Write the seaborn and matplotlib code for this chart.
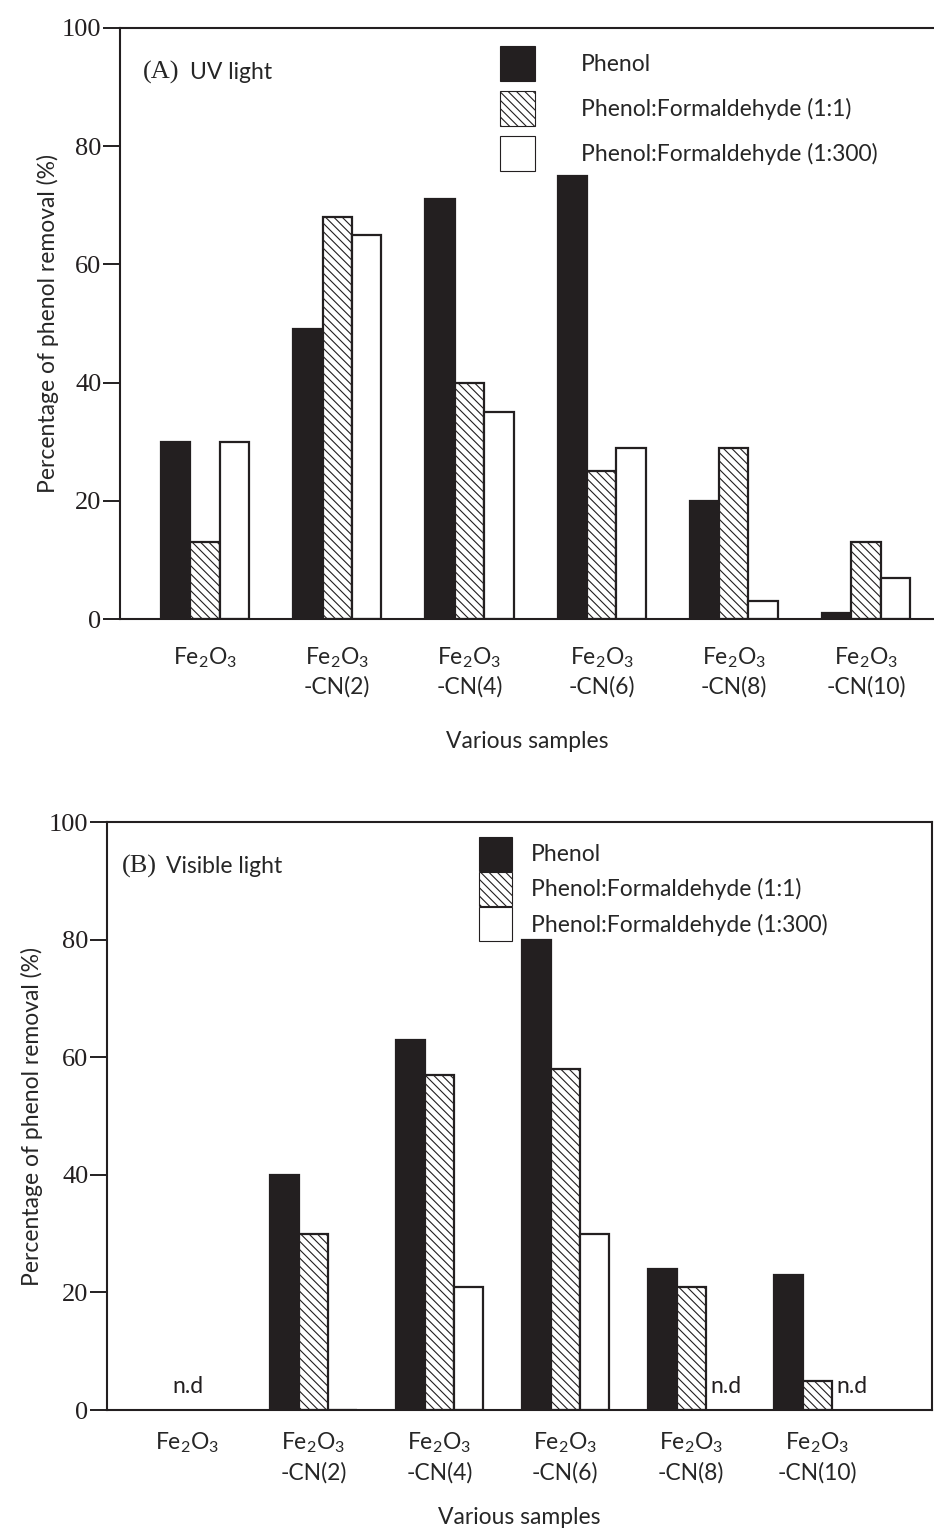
import numpy as np
import pandas as pd
import seaborn as sns
import matplotlib.pyplot as plt
from matplotlib.patches import Patch

sns.set_style("ticks")
plt.rcParams["font.family"] = ["Lato", "DejaVu Sans"]
plt.rcParams["mathtext.fontset"] = "custom"
plt.rcParams["mathtext.rm"] = "Lato"
plt.rcParams["mathtext.it"] = "Lato:italic"
plt.rcParams["mathtext.bf"] = "Lato:bold"
plt.rcParams["hatch.linewidth"] = 0.8

# data
samples = ["Fe2O3", "Fe2O3-CN(2)", "Fe2O3-CN(4)", "Fe2O3-CN(6)", "Fe2O3-CN(8)", "Fe2O3-CN(10)"]
tick_labels = ["Fe$_2$O$_3$", "Fe$_2$O$_3$\n-CN(2)", "Fe$_2$O$_3$\n-CN(4)",
               "Fe$_2$O$_3$\n-CN(6)", "Fe$_2$O$_3$\n-CN(8)", "Fe$_2$O$_3$\n-CN(10)"]
series = ["Phenol", "Phenol:Formaldehyde (1:1)", "Phenol:Formaldehyde (1:300)"]

uv_phenol = [30, 49, 71, 75, 20, 1]
uv_pf_1 = [13, 68, 40, 25, 29, 13]
uv_pf_300 = [30, 65, 35, 29, 3, 7]

vis_phenol = [np.nan, 40, 63, 80, 24, 23]
vis_pf_1 = [np.nan, 30, 57, 58, 21, 5]
vis_pf_300 = [np.nan, 0, 21, 30, np.nan, np.nan]
# not detected: (sample index, series index or None for whole group)
vis_nd = [(0, None), (4, 2), (5, 2)]

dark = "#231f20"
faces = [dark, "white", "white"]
hatches = [None, "\\\\\\\\", None]
serif = "Liberation Serif"
fs = 16.5


def long_df(vals):
    rows = []
    for s, v in zip(series, vals):
        for c, y in zip(samples, v):
            rows.append({"sample": c, "series": s, "value": y})
    return pd.DataFrame(rows)


def draw_panel(ax, vals, width, xlim):
    df = long_df(vals)
    sns.barplot(data=df, x="sample", y="value", hue="series", order=samples,
                hue_order=series, width=width, errorbar=None, ax=ax,
                edgecolor=dark, linewidth=1.6, legend=False)
    for cont, fc, h in zip(ax.containers, faces, hatches):
        for p in cont:
            p.set_facecolor(fc)
            p.set_edgecolor(dark)
            if h:
                p.set_hatch(h)
    ax.set_xlim(*xlim)
    ax.set_ylim(0, 100)
    ax.set_yticks([0, 20, 40, 60, 80, 100])
    for t in ax.get_yticklabels():
        t.set_fontfamily(serif)
        t.set_fontsize(19)
    ax.set_xticks(range(len(samples)))
    ax.set_xticklabels(tick_labels, fontsize=fs, linespacing=1.35)
    ax.tick_params(axis="x", length=0)
    ax.tick_params(axis="y", length=12.5, width=1.4, pad=1, colors=dark)
    for sp in ax.spines.values():
        sp.set_linewidth(1.5)
        sp.set_color(dark)
    ax.set_ylabel("Percentage of phenol removal (%)", fontsize=fs)
    ax.set_xlabel("Various samples", fontsize=fs)


fig = plt.figure(figsize=(9.34, 15.30), dpi=100)

# (A) UV light
ax1 = fig.add_axes([0.1285, 0.5954, 0.8715, 0.3863])
draw_panel(ax1, [uv_phenol, uv_pf_1, uv_pf_300], 0.667, (-0.644, 5.515))
ax1.spines["right"].set_visible(False)
ax1.tick_params(axis="x", pad=19)
ax1.xaxis.set_label_coords(0.5, -0.19)
ax1.yaxis.set_label_coords(-0.075, 0.5)
ax1.text(0.028, 0.924, "(A)", transform=ax1.transAxes, fontfamily=serif,
         fontsize=19, va="center")
ax1.text(0.086, 0.924, "UV light", transform=ax1.transAxes, fontsize=fs, va="center")
handles = [Patch(facecolor=f, edgecolor=dark, hatch=h, linewidth=0.8)
           for f, h in zip(faces, hatches)]
ax1.legend(handles, series, loc="upper left", bbox_to_anchor=(0.455, 0.985),
           frameon=False, fontsize=fs, handlelength=1.55, handleheight=1.95,
           handletextpad=2.0, labelspacing=0.45, borderaxespad=0)

# (B) Visible light
ax2 = fig.add_axes([0.1146, 0.0784, 0.8833, 0.3843])
draw_panel(ax2, [vis_phenol, vis_pf_1, vis_pf_300], 0.69, (-0.639, 5.913))
ax2.tick_params(axis="x", pad=15)
ax2.xaxis.set_label_coords(0.5, -0.165)
ax2.yaxis.set_label_coords(-0.078, 0.5)
ax2.text(0.018, 0.925, "(B)", transform=ax2.transAxes, fontfamily=serif,
         fontsize=19, va="center")
ax2.text(0.071, 0.925, "Visible light", transform=ax2.transAxes, fontsize=fs, va="center")
ax2.legend(handles, series, loc="upper left", bbox_to_anchor=(0.44, 0.99),
           frameon=False, fontsize=fs, handlelength=1.45, handleheight=1.9,
           handletextpad=0.8, labelspacing=0.05, borderaxespad=0)
bw = 0.69 / 3
for i, j in vis_nd:
    x = i if j is None else i + (j - 1) * bw + 0.05
    ax2.text(x, 4, "n.d", ha="center", va="center", fontsize=fs, color=dark)

fig.savefig("out.png", dpi=100)
